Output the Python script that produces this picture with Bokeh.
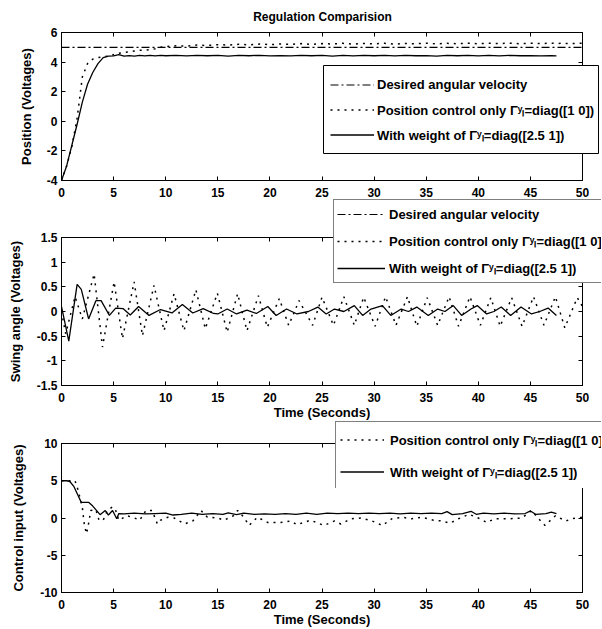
from bokeh.plotting import figure
from bokeh.models import (Legend, LegendItem, LinearAxis, FixedTicker, Range1d, Label,
                          CustomJSTickFormatter, GridBox)
from bokeh.layouts import column
from bokeh.embed import file_html
from bokeh.resources import INLINE

# ---------------- data ----------------
x_ticks = [0, 5, 10, 15, 20, 25, 30, 35, 40, 45, 50]
pos_ticks = [-4, -2, 0, 2, 4, 6]
swing_ticks = [-1.5, -1, -0.5, 0, 0.5, 1, 1.5]
ctrl_ticks = [-10, -5, 0, 5, 10]

title_text = "Regulation Comparision"
labels = ["Desired angular velocity",
          "Position control only \u0393\u02b8\u2097=diag([1 0])",
          "With weight of \u0393\u02b8\u2097=diag([2.5 1])"]

# Position panel
t_pos = [0, 0.5, 1, 1.5, 2, 2.5, 3, 3.5, 4, 4.5, 5, 5.5, 6, 6.5, 7, 7.5, 8, 8.5, 9, 9.5, 10,
         11, 12, 13, 14, 15, 16, 17, 18, 19, 20, 21, 22, 23, 24, 25, 26, 27, 28, 29, 30,
         31, 32, 33, 34, 35, 36, 37, 38, 39, 40, 41, 42, 43, 44, 45, 46, 47, 47.5, 48, 49, 50]
desired_t = [0, 50]
desired_pos = [5, 5]
pos_only = [-4.0, -3.0, -1.7, 0.2, 3.0, 3.9, 4.2, 4.3, 4.35, 4.4, 4.5, 4.6, 4.65, 4.7, 4.75, 4.8,
            4.8, 4.85, 4.9, 5.0, 5.05,
            5.1, 5.08, 5.15, 5.12, 5.18, 5.15, 5.2, 5.17, 5.22, 5.18, 5.22, 5.2, 5.25, 5.2, 5.25,
            5.22, 5.27, 5.22, 5.26, 5.23, 5.27, 5.22, 5.26, 5.24, 5.28, 5.23, 5.27, 5.24, 5.28,
            5.24, 5.27, 5.25, 5.28, 5.24, 5.27, 5.25, 5.28,
            5.25, 5.27, 5.25, 5.28]
pos_weight = [-4.0, -3.0, -1.6, -0.2, 1.3, 2.5, 3.3, 3.9, 4.3, 4.4, 4.42, 4.5, 4.4, 4.44, 4.41,
              4.45, 4.42, 4.46, 4.42, 4.45, 4.43,
              4.45, 4.42, 4.46, 4.43, 4.45, 4.41, 4.45, 4.43, 4.46, 4.42, 4.44, 4.42, 4.46, 4.43,
              4.45, 4.41, 4.45, 4.42, 4.46, 4.43, 4.45, 4.42, 4.46, 4.43, 4.44, 4.41, 4.45, 4.43,
              4.46, 4.42, 4.45, 4.42, 4.45, 4.43, 4.44, 4.42, 4.43,
              4.42]

# Swing angle panel
swing_only_t = [0, 0.4, 1.3, 2.0, 3.13, 3.93, 5.05, 5.85, 6.97, 7.77, 8.88, 9.84, 10.8, 11.75,
                12.9, 13.8, 14.96, 15.9, 16.9, 17.8, 18.9, 19.75, 20.9, 21.8, 22.8, 24.1, 25.0,
                26.1, 27.1, 28.1, 29.0, 30.1, 31.1, 32.1, 33.2, 34.1, 35.1, 36.1, 37.2, 38.1,
                39.2, 40.2, 41.2, 42.1, 43.2, 44.2, 45.3, 46.3, 47.4, 48.3, 49.5, 50]
swing_only = [0, -0.45, 0.3, -0.15, 0.76, -0.72, 0.6, -0.55, 0.6, -0.49, 0.53, -0.39, 0.36, -0.39,
              0.44, -0.35, 0.37, -0.42, 0.36, -0.39, 0.32, -0.32, 0.26, -0.28, 0.22, -0.28, 0.29,
              -0.28, 0.3, -0.28, 0.29, -0.3, 0.3, -0.28, 0.3, -0.3, 0.28, -0.28, 0.3, -0.3,
              0.3, -0.28, 0.28, -0.3, 0.28, -0.3, 0.3, -0.28, 0.3, -0.33, 0.28, 0.1]
swing_weight_t = [0, 0.7, 1.5, 1.9, 2.6, 3.3, 3.8, 4.6, 5.2, 5.9, 6.6, 7.4, 8.4, 9.5, 10.6, 11.6,
                  12.6, 13.6, 14.6, 15.0, 15.9, 16.8, 17.8, 18.7, 19.8, 20.6, 21.6, 22.6, 23.7,
                  24.6, 25.4, 26.2, 27.1, 28.1, 28.9, 29.7, 30.8, 31.6, 32.6, 33.3, 34.1, 35.2,
                  36.1, 36.8, 37.6, 38.4, 39.3, 39.9, 40.8, 41.5, 42.2, 43.1, 44.1, 45.1, 45.9,
                  46.7, 47.5]
swing_weight = [0.1, -0.6, 0.55, 0.45, -0.15, 0.22, 0.22, -0.08, 0.07, 0.06, -0.07, 0.1, -0.08,
                0.04, -0.03, 0.14, -0.03, 0.06, -0.04, -0.05, 0.05, -0.05, 0.03, -0.04, 0.1, -0.08,
                0.05, -0.05, 0.0, 0.09, -0.05, 0.05, 0.0, 0.12, -0.08, 0.05, 0.12, -0.08, 0.05,
                0.0, 0.09, -0.08, 0.05, 0.0, 0.12, -0.08, 0.05, 0.12, -0.05, 0.0, 0.09, -0.08,
                0.09, -0.05, 0.0, 0.07, -0.08]

# Control input panel
ctrl_only_t = [0, 1.3, 1.6, 2.0, 2.2, 2.4, 2.65, 2.8, 3.3, 3.6, 4.0, 4.4, 4.9, 5.2, 5.5, 6.3, 7.0,
               7.5, 8.1, 8.7, 9.2, 9.5, 10.2, 10.8, 11.8, 12.6, 13.4, 14.0, 15.0, 15.6, 16.5,
               16.9, 17.5, 18.0, 18.8, 19.8, 21.0, 22.0, 22.6, 23.9, 25.2, 26.2, 26.8, 27.8,
               28.8, 29.8, 30.8, 31.7, 32.7, 33.6, 34.6, 35.7, 36.5, 37.3, 38.1, 39.1, 40.0,
               40.8, 41.6, 42.9, 44.2, 45.1, 45.8, 46.4, 47.4, 48.4, 49.0, 50]
ctrl_only = [5, 5, 3.7, 1.4, -1.0, -2.1, -0.4, 1.0, 1.1, -0.3, -0.3, 1.0, 1.5, 1.0, -0.3, 0.3, 0.0,
             -0.3, 1.0, 1.0, -0.8, -0.3, 0.1, 0.0, -0.8, -0.4, 1.0, 0.1, 0.0, -0.3, 0.3,
             1.0, 0.1, -1.0, 0.1, -0.6, -0.6, -0.4, -0.9, -0.3, -1.0, -0.4, -0.8, -0.1,
             0.0, -0.4, -1.0, -0.1, 0.1, -0.1, 0.1, -0.3, -0.4, -0.7, -0.1, 0.5, 0.0,
             -0.6, -0.1, -0.1, 0.0, 1.0, -0.1, -1.0, 0.3, -0.4, -0.1, 0.1]
ctrl_weight_t = [0, 0.5, 0.8, 1.2, 1.6, 1.9, 2.6, 3.0, 3.7, 4.2, 4.5, 4.9, 5.3, 5.5, 6, 7, 8, 9,
                 10, 10.7, 11.5, 12.5, 13.5, 14.5, 15.5, 16, 16.8, 17.5, 18.5, 19.5, 20.5, 21.5,
                 22.5, 23.5, 24.5, 25.5, 26.5, 27.5, 28.5, 29.5, 30.5, 31.5, 32.5, 33.5, 34.5,
                 35.5, 36.5, 37, 37.5, 38.5, 39.3, 39.8, 40.5, 41.5, 42.5, 43.5, 44.5, 45, 45.5,
                 46.5, 47, 47.5]
ctrl_weight = [5, 5, 4.9, 4.2, 3.0, 2.1, 2.1, 1.6, 0.45, 1.0, 0.4, 1.0, -0.1, 0.6, 0.55, 0.65,
               0.55, 0.6, 0.65, 0.4, 0.5, 0.65, 0.5, 0.6, 0.5, 0.7, 0.45, 0.65, 0.5, 0.55, 0.5,
               0.6, 0.5, 0.65, 0.5, 0.65, 0.6, 0.65, 0.6, 0.65, 0.6, 0.65, 0.55, 0.65, 0.6,
               0.65, 0.6, 0.85, 0.45, 0.6, 0.9, 0.5, 0.65, 0.55, 0.65, 0.55, 0.6, 0.95, 0.5,
               0.6, 0.8, 0.6]

# ---------------- styling ----------------
FONT = "Liberation Sans"
W = 602
LEFT = 61
RIGHT = 20
DASHDOT = "8 3 2 3"
DOT = "2 5"
STY = {"desired": (DASHDOT, 1.2), "only": (DOT, 1.5), "weight": (None, 1.3)}


def make_fig(height, yr, top, bottom):
    p = figure(width=W, height=height, x_range=Range1d(0, 50), y_range=Range1d(*yr),
               output_backend="svg", toolbar_location=None,
               min_border_left=LEFT, min_border_right=RIGHT,
               min_border_top=top, min_border_bottom=bottom,
               background_fill_color="white", border_fill_color="white",
               outline_line_color="black")
    p.grid.visible = False
    return p


def style_axis(ax, ticks, show, standoff=0):
    ax.ticker = FixedTicker(ticks=ticks)
    ax.formatter = CustomJSTickFormatter(code="return String(tick);")
    ax.major_tick_in = 4
    ax.major_tick_out = 0
    ax.minor_tick_line_color = None
    ax.axis_line_color = "black"
    ax.major_tick_line_color = "black"
    ax.major_label_text_font = FONT
    ax.major_label_text_font_style = "bold"
    ax.axis_label_text_font = FONT
    ax.axis_label_text_font_style = "bold"
    ax.axis_label_text_font_size = "13px"
    ax.axis_label_text_color = "black"
    ax.major_label_standoff = standoff
    if show:
        ax.major_label_text_font_size = "12px"
        ax.major_label_text_color = "black"
    else:
        ax.major_label_text_font_size = "1px"
        ax.major_label_text_color = None


def frame_axes(p, yticks, ylabel, ylabel_standoff, xlabel=None):
    style_axis(p.xaxis[0], x_ticks, True, standoff=7)
    style_axis(p.yaxis[0], yticks, True, standoff=4)
    if xlabel:
        p.xaxis[0].axis_label = xlabel
        p.xaxis[0].axis_label_standoff = 0
    p.yaxis[0].axis_label = ylabel
    p.yaxis[0].axis_label_standoff = ylabel_standoff
    top = LinearAxis()
    style_axis(top, x_ticks, False)
    p.add_layout(top, "above")
    right = LinearAxis()
    style_axis(right, yticks, False)
    p.add_layout(right, "right")


def overlay(left, top, width, height, boxed=False):
    ov = figure(width=width, height=height, x_range=Range1d(0, 50),
                y_range=Range1d(-10, 10), output_backend="svg", toolbar_location=None,
                x_axis_type=None, y_axis_type=None, min_border=1 if boxed else 0,
                outline_line_color="black" if boxed else None, outline_line_width=1,
                background_fill_color="white", background_fill_alpha=1 if boxed else 0,
                border_fill_color="white", border_fill_alpha=0,
                margin=(top, 0, 0, left))
    ov.grid.visible = False
    return ov


def add_legend(ov, entries, pad, row_h, spacing, glyph_w, standoff, boxed, inset=1):
    items = []
    for label, tx, ty, kind in entries:
        dash, lw = STY[kind]
        kw = {"line_dash": dash} if dash else {}
        r = ov.line(tx, ty, line_color="black", line_width=lw, visible=False, **kw)
        items.append(LegendItem(label=label, renderers=[r]))
    leg = Legend(items=items, location="top_left", margin=inset,
                 border_line_color=None if boxed else "black", border_line_width=1,
                 background_fill_color="white", background_fill_alpha=0 if boxed else 1.0,
                 label_text_font=FONT, label_text_font_style="bold",
                 label_text_font_size="13px", label_text_color="black",
                 glyph_width=glyph_w, glyph_height=row_h, label_height=row_h,
                 label_standoff=standoff, padding=pad, spacing=spacing, click_policy="none")
    ov.add_layout(leg)


# ---- top: position ----
p1 = make_fig(202, (-4, 6), 32, 22)
frame_axes(p1, pos_ticks, "Position (Voltages)", 10)
p1.line(desired_t, desired_pos, line_color="black", line_width=1.2, line_dash=DASHDOT)
p1.line(t_pos[:len(pos_only)], pos_only, line_color="black", line_width=1.5, line_dash=DOT)
p1.line(t_pos[:len(pos_weight)], pos_weight, line_color="black", line_width=1.3)

# ---- middle: swing ----
p2 = make_fig(221, (-1.5, 1.5), 35, 38)
frame_axes(p2, swing_ticks, "Swing angle (Voltages)", 11, xlabel="Time (Seconds)")
p2.line(swing_only_t, swing_only, line_color="black", line_width=1.5, line_dash=DOT)
p2.line(swing_weight_t, swing_weight, line_color="black", line_width=1.3)

# ---- bottom: control ----
p3 = make_fig(206, (-10, 10), 20, 37)
frame_axes(p3, ctrl_ticks, "Control input (Voltages)", 11, xlabel="Time (Seconds)")
p3.line(ctrl_only_t, ctrl_only, line_color="black", line_width=1.5, line_dash=DOT)
p3.line(ctrl_weight_t, ctrl_weight, line_color="black", line_width=1.3)

# ---- title overlay ----
ovt = overlay(0, 8, W, 18)
ovt.add_layout(Label(x=321, y=9, x_units="screen", y_units="screen", text=title_text,
                     text_align="center", text_baseline="middle", text_font=FONT,
                     text_font_style="bold", text_font_size="12px", text_color="black"))

# ---- legends (transparent overlays so they can overhang the frames) ----
ov1 = overlay(322, 64, 277, 90, boxed=True)
add_legend(ov1, [(labels[0], desired_t, desired_pos, "desired"),
                 (labels[1], t_pos[:len(pos_only)], pos_only, "only"),
                 (labels[2], t_pos[:len(pos_weight)], pos_weight, "weight")],
           3, 25, 0, 44, 3, True, inset=7)
ov2 = overlay(331, 197, W - 331, 88)
add_legend(ov2, [(labels[0], desired_t, desired_pos, "desired"),
                 (labels[1], swing_only_t, swing_only, "only"),
                 (labels[2], swing_weight_t, swing_weight, "weight")],
           3, 22, 5, 48, 4, False)
ov3 = overlay(333, 419, W - 333, 70)
add_legend(ov3, [(labels[1], ctrl_only_t, ctrl_only, "only"),
                 (labels[2], ctrl_weight_t, ctrl_weight, "weight")],
           4, 27, 5, 44, 6, False)

main = column(p1, p2, p3, spacing=0)
layout = GridBox(children=[(main, 0, 0), (ovt, 0, 0), (ov1, 0, 0), (ov2, 0, 0), (ov3, 0, 0)])
open("out.html", "w").write(file_html(layout, INLINE))
